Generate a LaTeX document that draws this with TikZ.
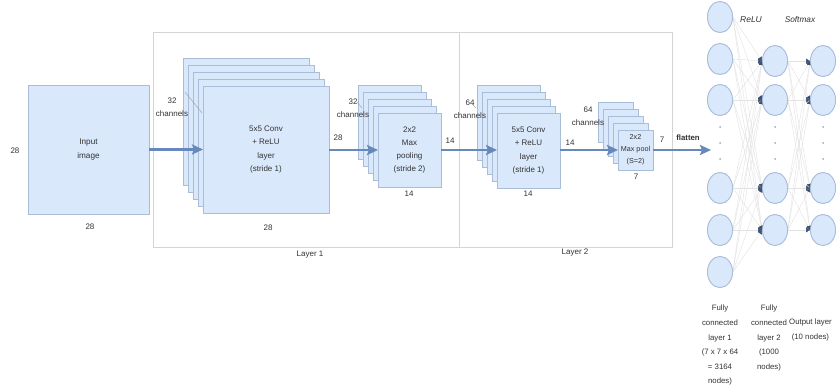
\documentclass[tikz,border=0pt]{standalone}
\usepackage{fontspec}
\setmainfont{Liberation Sans}
\usetikzlibrary{arrows.meta,shapes.geometric}
\definecolor{fmfill}{HTML}{DAE8FC}
\definecolor{fmdraw}{HTML}{A9BCD8}
\definecolor{arrowblue}{HTML}{6688BA}
\definecolor{txt}{HTML}{333333}
\definecolor{framegray}{HTML}{D4D4D4}
\definecolor{wiregray}{HTML}{E2E2E2}
\definecolor{tipdark}{HTML}{3E5270}
\tikzset{
  fmap/.style={draw=fmdraw, fill=fmfill, line width=0.8pt, rectangle, anchor=north west, inner sep=0pt, outer sep=0pt},
  lbl/.style={text=txt, font=\fontsize{8}{13.3}\selectfont, align=center, inner sep=0pt},
  biglbl/.style={text=txt, font=\fontsize{7.8}{14.6}\selectfont, align=center, inner sep=0pt},
  bigarrow/.style={draw=arrowblue, line width=2.8pt, -{Stealth[length=11pt,width=10pt,inset=2pt]}},
  layerframe/.style={draw=framegray, line width=0.8pt},
  pointer/.style={draw=gray!70, line width=0.5pt},
  neuron/.style={ellipse, draw=fmdraw, fill=fmfill, line width=0.8pt, minimum width=25pt, minimum height=31pt, inner sep=0pt},
  wire/.style={draw=wiregray, line width=0.4pt, -{Latex[length=4pt,width=5pt,color=tipdark]}},
  ndot/.style={circle, fill=arrowblue!70, inner sep=0pt, minimum size=2pt}
}
\begin{document}
\begin{tikzpicture}[x=1pt,y=-1pt]
\useasboundingbox (0,0) rectangle (837,388);
\clip (0,0) rectangle (837,388);
\fill[white] (0,0) rectangle (837,388);

% layer frames
\draw[layerframe] (153,32) rectangle (459,247);
\draw[layerframe] (459,32) rectangle (672,247);
\node[lbl] (layer1) at (310,255) {Layer 1};
\node[lbl] (layer2) at (575,253) {Layer 2};

% input
\node[fmap, minimum width=121pt, minimum height=129pt] (input) at (28,85) {};
\node[lbl, font=\fontsize{8.2}{14}\selectfont] (inputtxt) at (input.center) {Input\\image};
\node[lbl] (in28l) at (15,151) {28};
\node[lbl] (in28b) at (90,227) {28};

% conv1 stack
\foreach \i in {0,...,3}
  \node[fmap, minimum width=126pt, minimum height=127pt] (c1-\i) at ({183+5*\i},{58+7*\i}) {};
\node[fmap, minimum width=126pt, minimum height=127pt] (c1-4) at (203,86) {};
\node[lbl] (c1txt) at (c1-4.center) {5x5 Conv\\+ ReLU\\layer\\(stride 1)};
\node[lbl] (c1ch) at (172,107) {32\\channels};
\draw[pointer] (185,92) -- (202,113);
\node[lbl] (c1r) at (338,138) {28};
\node[lbl] (c1b) at (268,228) {28};

% pool1 stack
\foreach \i in {0,...,3}
  \node[fmap, minimum width=63pt, minimum height=74pt] (p1-\i) at ({358+5*\i},{85+7*\i}) {};
\node[fmap, minimum width=63pt, minimum height=74pt] (p1-4) at (378,113) {};
\node[lbl] (p1txt) at (p1-4.center) {2x2\\Max\\pooling\\(stride 2)};
\node[lbl] (p1ch) at (353,108) {32\\channels};
\draw[pointer] (357,102) -- (362,108);
\node[lbl] (p1r) at (450,141) {14};
\node[lbl] (p1b) at (409,194) {14};

% conv2 stack
\foreach \i in {0,...,3}
  \node[fmap, minimum width=63pt, minimum height=75pt] (c2-\i) at ({477+5*\i},{85+7*\i}) {};
\node[fmap, minimum width=63pt, minimum height=75pt] (c2-4) at (497,113) {};
\node[lbl] (c2txt) at (c2-4.center) {5x5 Conv\\+ ReLU\\layer\\(stride 1)};
\node[lbl] (c2ch) at (470,109) {64\\channels};
\draw[pointer] (472,104) -- (476,108);
\node[lbl] (c2r) at (570,143) {14};
\node[lbl] (c2b) at (528,194) {14};

% pool2 stack
\foreach \i in {0,...,3}
  \node[fmap, minimum width=35pt, minimum height=40pt] (p2-\i) at ({598+5*\i},{102+7*\i}) {};
\node[fmap, minimum width=35pt, minimum height=40pt] (p2-4) at (618,130) {};
\node[lbl, font=\fontsize{7.2}{12}\selectfont] (p2txt) at (p2-4.center) {2x2\\Max pool\\(S=2)};
\node[lbl] (p2ch) at (588,116) {64\\channels};
\node[lbl] (p2r) at (662,140) {7};
\node[lbl] (p2b) at (636,177) {7};
\node[lbl, font=\fontsize{7.8}{9}\selectfont\bfseries] (flat) at (688,138) {flatten};

% main arrows
\draw[bigarrow] (input.east) -- (input.east -| c1-4.west);
\draw[bigarrow] (c1-4.east |- p1-4.west) -- (p1-4.west);
\draw[bigarrow] (p1-4.east) -- (p1-4.east -| c2-4.west);
\draw[bigarrow] (c2-4.east |- p2-4.west) -- (p2-4.west);
\coordinate (flatend) at (711,150);
\draw[bigarrow] (p2-4.east) -- (flatend);

% neurons
\foreach \n/\y in {1/17,2/59,3/100,4/188,5/230,6/272}
  \node[neuron] (a\n) at (720,\y) {};
\foreach \n/\y in {1/61,2/100,3/188,4/230}
  \node[neuron] (b\n) at (775,\y) {};
\foreach \n/\y in {1/61,2/100,3/188,4/230}
  \node[neuron] (o\n) at (823,\y) {};

% wires
\foreach \s in {1,...,6}
  \foreach \t in {1,...,4}
    \draw[wire] (a\s.east) -- (b\t.west);
\foreach \s in {1,...,4}
  \foreach \t in {1,...,4}
    \draw[wire] (b\s.east) -- (o\t.west);

% redraw neurons on top of wires
\foreach \n/\y in {1/17,2/59,3/100,4/188,5/230,6/272}
  \node[neuron] (a\n) at (720,\y) {};
\foreach \n/\y in {1/61,2/100,3/188,4/230}
  \node[neuron] (b\n) at (775,\y) {};
\foreach \n/\y in {1/61,2/100,3/188,4/230}
  \node[neuron] (o\n) at (823,\y) {};
\foreach \x/\k in {720/a,775/b,823/o}
  \foreach \y/\j in {127/1,143/2,159/3}
    \node[ndot] (dot\k\j) at (\x,\y) {};

\node[lbl, font=\fontsize{8.5}{9}\selectfont\itshape] (relu) at (751,20) {ReLU};
\node[lbl, font=\fontsize{8.3}{9}\selectfont\itshape] (softmax) at (800,20) {Softmax};

% bottom labels
\node[biglbl, anchor=north] (fc1lbl) at (720,305) {Fully\\connected\\layer 1\\(7 x 7 x 64\\= 3164\\nodes)};
\node[biglbl, anchor=north] (fc2lbl) at (769,305) {Fully\\connected\\layer 2\\(1000\\nodes)};
\node[biglbl, anchor=north west] (outlbl) at (789,319) {Output layer\\(10 nodes)};
\end{tikzpicture}
\end{document}
